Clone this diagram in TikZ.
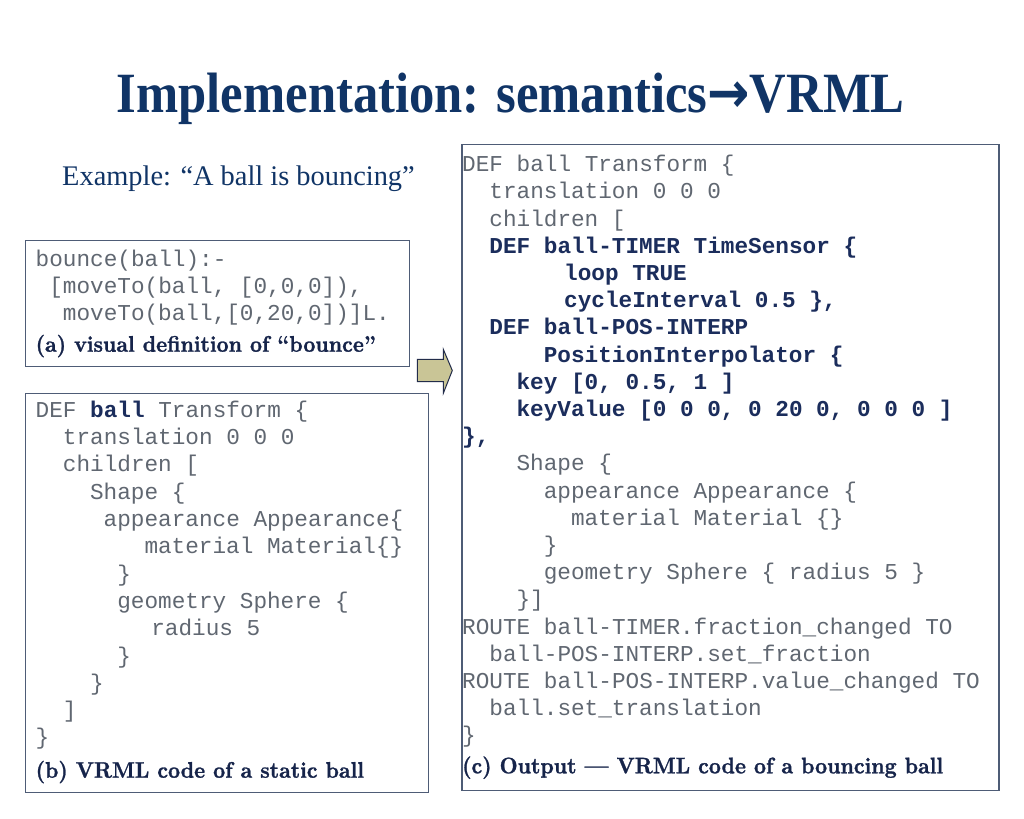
\documentclass[tikz,border=0pt]{standalone}
\usepackage{fontspec}
\usepackage{graphicx}
\newfontfamily\timesf{Liberation Serif}
\newfontfamily\monof{Liberation Mono}
\newfontfamily\arrowf{DejaVu Sans}
\newfontfamily\capf{lmroman10-bold.otf}[FakeBold=1.2, Ligatures=TeX]
\definecolor{titlenavy}{RGB}{16,52,102}
\definecolor{codegray}{RGB}{96,103,113}
\definecolor{codenavy}{RGB}{27,45,92}
\definecolor{capnavy}{RGB}{22,36,74}
\definecolor{boxline}{RGB}{78,92,118}
\definecolor{arrowfill}{RGB}{201,197,150}
\definecolor{arrowline}{RGB}{34,44,74}
\tikzset{
  codetxt/.style={inner sep=0pt, anchor=base west, text=codegray,
    font=\monof\fontsize{22.7bp}{27bp}\selectfont},
  codebold/.style={codetxt, text=codenavy,
    font=\monof\bfseries\fontsize{22.7bp}{27bp}\selectfont},
  captxt/.style={inner sep=0pt, anchor=base west, text=capnavy,
    font=\capf\fontsize{22.5bp}{27bp}\selectfont},
  codebox/.style={draw=boxline, line width=1.3bp, anchor=north west, inner sep=0pt},
}
\newcommand\Aline[4][codetxt]{\node[#1] (a#2) at ({35.5+#3*13.6},{266+(#2-1)*27.3}) {#4};}
\newcommand\Bline[4][codetxt]{\node[#1] (b#2) at ({35.5+#3*13.6},{417.3+(#2-1)*27.3}) {#4};}
\newcommand\Cline[4][codetxt]{\node[#1] (c#2) at ({462+#3*13.6},{171.7+(#2-1)*27.2}) {#4};}
\begin{document}
\begin{tikzpicture}[x=1bp,y=-1bp]
\useasboundingbox (0,0) rectangle (1024,819);
\fill[white] (0,0) rectangle (1024,819);

% title and subtitle
\node[inner sep=0pt, anchor=base, text=titlenavy,
  font=\timesf\bfseries\fontsize{56.9bp}{60bp}\selectfont] (title) at (510.7,112.7)
  {\scalebox{0.89}[1]{Implementation: semantics{\arrowf\bfseries →}VRML}};
\node[inner sep=0pt, anchor=base west, text=titlenavy,
  font=\timesf\fontsize{28.4bp}{32bp}\selectfont] (example) at (62,185)
  {Example: “A ball is bouncing”};

% boxes
\node[codebox, minimum width=384bp, minimum height=126bp] (boxa) at (25,240) {};
\node[codebox, minimum width=403bp, minimum height=399bp] (boxb) at (25,393) {};
\node[codebox, minimum width=537bp, minimum height=646bp] (boxc) at (461.3,144) {};

% block arrow
\draw[arrowline, line width=1bp, fill=arrowfill, line join=miter]
  (417.3,359.3) -- (443.3,359.3) -- (443.3,349.3) -- (452.3,370.5)
  -- (443.3,393.3) -- (443.3,381.7) -- (417.3,381.7) -- cycle;

% box (a)
\Aline{1}{0}{bounce(ball):-}
\Aline{2}{1}{[moveTo(ball, [0,0,0]),}
\Aline{3}{2}{moveTo(ball,[0,20,0])]L.}
\node[captxt] (capa) at (35.5,351.7) {\scalebox{0.93}[1]{(a) visual definition of “bounce”}};

% box (b)
\Bline{1}{0}{DEF {\bfseries\color{codenavy}ball} Transform \{}
\Bline{2}{2}{translation 0 0 0}
\Bline{3}{2}{children [}
\Bline{4}{4}{Shape \{}
\Bline{5}{5}{appearance Appearance\{}
\Bline{6}{8}{material Material\{\}}
\Bline{7}{6}{\}}
\Bline{8}{6}{geometry Sphere \{}
\Bline{9}{8.5}{radius 5}
\Bline{10}{6}{\}}
\Bline{11}{4}{\}}
\Bline{12}{2}{]}
\Bline{13}{0}{\}}
\node[captxt] (capb) at (35.5,777.7) {\scalebox{0.93}[1]{(b) VRML code of a static ball}};

% box (c)
\Cline{1}{0}{DEF ball Transform \{}
\Cline{2}{2}{translation 0 0 0}
\Cline{3}{2}{children [}
\Cline[codebold]{4}{2}{DEF ball-TIMER TimeSensor \{}
\Cline[codebold]{5}{7.5}{loop TRUE}
\Cline[codebold]{6}{7.5}{cycleInterval 0.5 \},}
\Cline[codebold]{7}{2}{DEF ball-POS-INTERP}
\Cline[codebold]{8}{6}{PositionInterpolator \{}
\Cline[codebold]{9}{4}{key [0, 0.5, 1 ]}
\Cline[codebold]{10}{4}{keyValue [0 0 0, 0 20 0, 0 0 0 ]}
\Cline[codebold]{11}{0}{\},}
\Cline{12}{4}{Shape \{}
\Cline{13}{6}{appearance Appearance \{}
\Cline{14}{8}{material Material \{\}}
\Cline{15}{6}{\}}
\Cline{16}{6}{geometry Sphere \{ radius 5 \}}
\Cline{17}{4}{\}]}
\Cline{18}{0}{ROUTE ball-TIMER.fraction\_changed TO}
\Cline{19}{2}{ball-POS-INTERP.set\_fraction}
\Cline{20}{0}{ROUTE ball-POS-INTERP.value\_changed TO}
\Cline{21}{2}{ball.set\_translation}
\Cline{22}{0}{\}}
\node[captxt] (capc) at (462,773.3) {\scalebox{0.93}[1]{(c) Output — VRML code of a bouncing ball}};
\end{tikzpicture}
\end{document}
